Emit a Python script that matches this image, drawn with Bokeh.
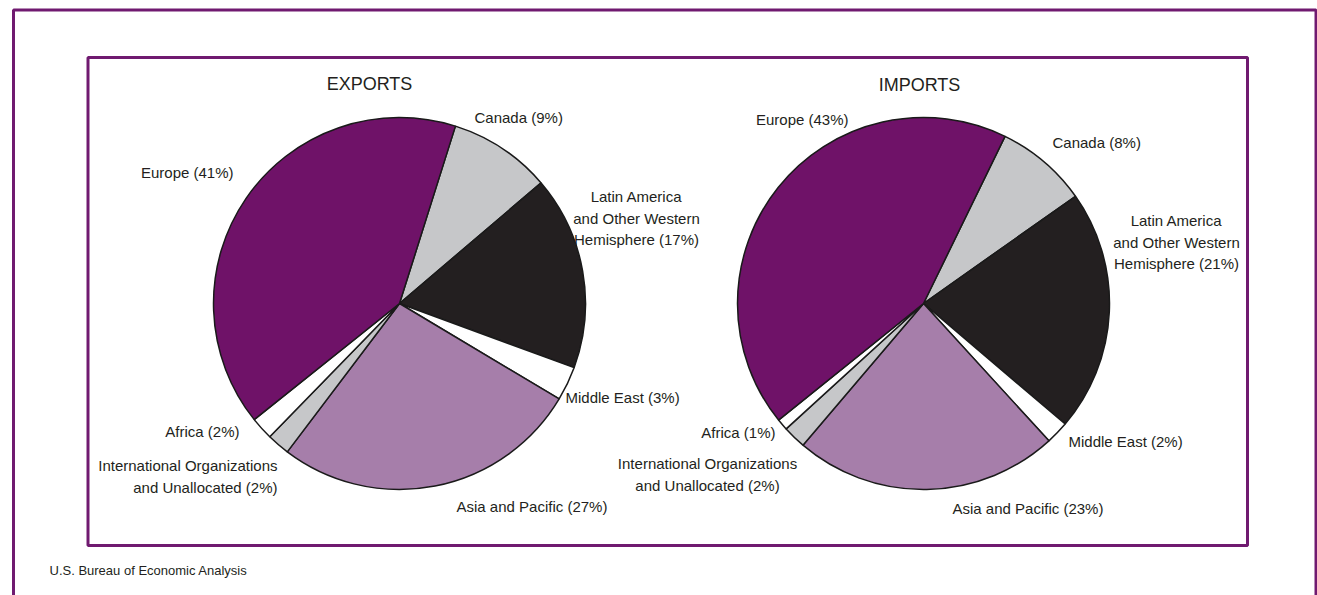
import numpy as np
from bokeh.plotting import figure
from bokeh.models import Range1d, ColumnDataSource
from bokeh.core.properties import value
from bokeh.embed import file_html
from bokeh.resources import INLINE

# ---------------- data ----------------
regions = [
    "Canada",
    "Latin America\nand Other Western\nHemisphere",
    "Middle East",
    "Asia and Pacific",
    "International Organizations\nand Unallocated",
    "Africa",
    "Europe",
]
export_pct = [9, 17, 3, 27, 2, 2, 41]
import_pct = [8, 21, 2, 23, 2, 1, 43]
slice_colors = ["#c6c7c9", "#231f20", "#ffffff", "#a67eaa", "#c6c7c9", "#ffffff", "#6f1268"]
titles = ["EXPORTS", "IMPORTS"]
source_note = "U.S. Bureau of Economic Analysis"

# ---------------- layout (screen pixels) ----------------
W, H = 1317, 595
X0, Y0 = 0, 0
LABEL_FONT = value("Liberation Sans")
TITLE_FONT = value("Liberation Sans")
TEXT_COLOR = "#231f20"
BORDER = "#701a70"
LINE_H = 21.5

pies = [
    dict(cx=399, cy=303, r=186, start=17.5, title=(369, 83),
         labels=[(474, 117, "left"), (636, 196, "center"), (565, 397, "left"),
                 (456, 506, "left"), (277, 465, "right"), (239, 431, "right"),
                 (233, 172, "right")]),
    dict(cx=923, cy=303, r=186, start=26.0, title=(919, 84),
         labels=[(1052, 142, "left"), (1176, 220, "center"), (1068, 441, "left"),
                 (952, 508, "left"), (707, 463, "center"), (775, 432, "right"),
                 (848, 119, "right")]),
]

p = figure(width=W, height=H, x_range=Range1d(X0, X0 + W), y_range=Range1d(-(Y0 + H), -Y0),
           output_backend="svg", toolbar_location=None, min_border=0,
           x_axis_location=None, y_axis_location=None)
p.grid.visible = False
p.outline_line_color = None
p.background_fill_color = "white"
p.border_fill_color = "white"

# frames
p.quad(left=[13], right=[1315.5], top=[-9.5], bottom=[-660], fill_alpha=0,
       line_color=BORDER, line_width=3)
p.quad(left=[87.5], right=[1247], top=[-57], bottom=[-545], fill_alpha=0,
       line_color=BORDER, line_width=3)

for pie, pct, title in zip(pies, [export_pct, import_pct], titles):
    vals = np.array(pct, dtype=float)
    deg = vals / vals.sum() * 360.0
    cum = np.concatenate([[0.0], np.cumsum(deg)])
    th1 = pie["start"] + cum[:-1]
    th2 = pie["start"] + cum[1:]
    src = ColumnDataSource(dict(
        start=np.radians(90 - th2), end=np.radians(90 - th1), color=slice_colors))
    p.wedge(x=pie["cx"], y=-pie["cy"], radius=pie["r"], start_angle="start", end_angle="end",
            fill_color="color", line_color="#1a1a1a", line_width=1.5, source=src)

    tx, ty = pie["title"]
    p.text(x=[tx], y=[-ty], text=[title], text_font=TITLE_FONT, text_font_size="18px",
           text_align="center", text_baseline="middle", text_color=TEXT_COLOR)

    xs, ys, txt, al = [], [], [], []
    for name, v, (lx, ly, a) in zip(regions, pct, pie["labels"]):
        lines = f"{name} ({v}%)".split("\n")
        for i, ln in enumerate(lines):
            xs.append(lx); ys.append(-(ly + i * LINE_H)); txt.append(ln); al.append(a)
    for a in ("left", "center", "right"):
        idx = [i for i in range(len(al)) if al[i] == a]
        if not idx:
            continue
        p.text(x=[xs[i] for i in idx], y=[ys[i] for i in idx], text=[txt[i] for i in idx],
               text_font=LABEL_FONT, text_font_size="15px", text_align=a,
               text_baseline="middle", text_color=TEXT_COLOR)

p.text(x=[49], y=[-570], text=[source_note], text_font=LABEL_FONT, text_font_size="13px",
       text_align="left", text_baseline="middle", text_color=TEXT_COLOR)

open("out.html", "w").write(file_html(p, INLINE))
